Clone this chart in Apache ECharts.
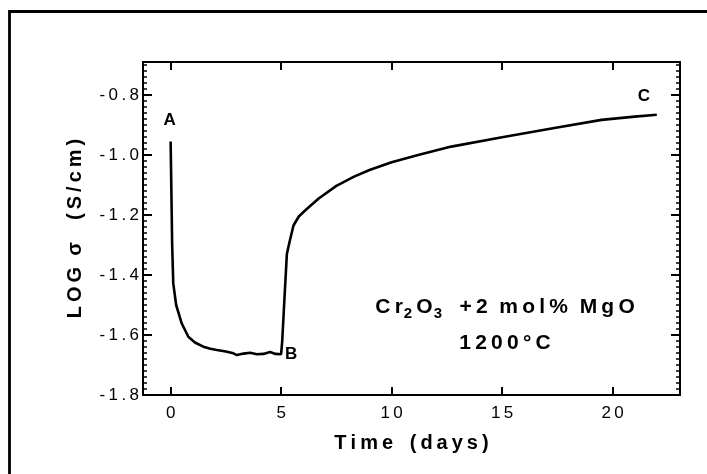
<!DOCTYPE html>
<html>
<head>
<meta charset="utf-8">
<script src="https://cdn.jsdelivr.net/npm/echarts@6/dist/echarts.min.js"></script>
<style>
html,body{margin:0;padding:0;background:#fff;}
#chart{width:707px;height:474px;}
</style>
</head>
<body>
<div id="chart"></div>
<script>
// ---- data ----
const timeDays = [0, 0.03, 0.07, 0.12, 0.25, 0.5, 0.8, 1.1, 1.48, 1.8, 2.09, 2.5, 2.84, 3.0, 3.3, 3.6, 3.9, 4.2, 4.5, 4.75, 5.0,
  5.05, 5.15, 5.26, 5.38, 5.56, 5.8, 6.16, 6.7, 7.5, 8.3, 9.0, 10.0, 11.2, 12.7, 15.0, 17.3, 19.5, 21.0, 22.0];
const logSigma = [-0.955, -1.10, -1.30, -1.428, -1.50, -1.561, -1.606, -1.625, -1.639, -1.646, -1.650, -1.655, -1.661, -1.667, -1.662, -1.659, -1.664, -1.663, -1.657, -1.663, -1.664,
  -1.62, -1.48, -1.33, -1.29, -1.235, -1.205, -1.18, -1.145, -1.103, -1.072, -1.05, -1.024, -1.0, -0.972, -0.941, -0.911, -0.883, -0.872, -0.866];
const xTicks = [0, 5, 10, 15, 20];
const yTicks = [-1.8, -1.6, -1.4, -1.2, -1.0, -0.8];
const pointLabels = ['A', 'B', 'C'];
const pointLabelIdx = [0, 20, 39];

const yMinorTicks = [];
for (let k = 0; k <= 55; k++) yMinorTicks.push(+(-1.8 + k * 0.02).toFixed(2));

const TS = '\u2009';
const spaced = s => s.split('').join(TS);

const seriesData = timeDays.map((t, i) => [t, logSigma[i]]);

const chart = echarts.init(document.getElementById('chart'), null, {renderer: 'canvas'});
const font = '"Liberation Sans", Arial, Helvetica, sans-serif';
const X_MIN = -1.25, X_MAX = 23.05, Y_MIN = -1.8, Y_MAX = -0.69;

function xAxis(pos, showLabels) {
  return {
    type: 'value', position: pos, min: X_MIN, max: X_MAX,
    axisLine: {show: true, onZero: false, lineStyle: {color: '#000', width: 2}},
    axisTick: {show: true, inside: true, length: 8, customValues: xTicks, lineStyle: {color: '#000', width: 2}},
    axisLabel: {show: showLabels, customValues: xTicks, margin: 10, color: '#000', fontSize: 17, fontFamily: font,
      formatter: v => spaced(String(Math.round(v)))},
    splitLine: {show: false},
    name: showLabels ? spaced('Time') + '   ' + spaced('(days)') : '',
    nameLocation: 'middle', nameGap: 38,
    nameTextStyle: {color: '#000', fontSize: 20, fontWeight: 'bold', fontFamily: font}
  };
}
function yAxis(pos, ticks, len, showLabels, showName) {
  return {
    type: 'value', position: pos, min: Y_MIN, max: Y_MAX,
    axisLine: {show: true, onZero: false, lineStyle: {color: '#000', width: 2}},
    axisTick: {show: true, inside: true, length: len, customValues: ticks, lineStyle: {color: '#000', width: len > 5 ? 2 : 1.5}},
    axisLabel: {show: showLabels, customValues: yTicks, margin: 4, color: '#000', fontSize: 17, fontFamily: font,
      formatter: v => spaced(v.toFixed(1))},
    splitLine: {show: false},
    name: showName ? spaced('LOG') + '  σ    ' + spaced('(S/cm)') : '',
    nameLocation: 'middle', nameGap: 58,
    nameTextStyle: {color: '#000', fontSize: 20, fontWeight: 'bold', fontFamily: font}
  };
}

chart.setOption({
  animation: false,
  backgroundColor: '#fff',
  grid: {left: 143, right: 27, top: 62, bottom: 79, containLabel: false},
  xAxis: [xAxis('bottom', true), xAxis('top', false)],
  yAxis: [
    yAxis('left', yTicks, 9, true, true),
    yAxis('left', yMinorTicks, 4, false, false),
    yAxis('right', yTicks, 9, false, false),
    yAxis('right', yMinorTicks, 4, false, false)
  ],
  series: [{
    type: 'line', xAxisIndex: 0, yAxisIndex: 0,
    data: seriesData, showSymbol: false, smooth: false,
    lineStyle: {color: '#000', width: 2.6},
    markPoint: {
      symbol: 'circle', symbolSize: 1, itemStyle: {color: 'rgba(0,0,0,0)'},
      label: {show: true, color: '#000', fontSize: 17, fontWeight: 'bold', fontFamily: font, formatter: '{b}'},
      data: [
        {name: pointLabels[0], coord: seriesData[pointLabelIdx[0]], label: {offset: [-1, -21]}},
        {name: pointLabels[1], coord: seriesData[pointLabelIdx[1]], label: {offset: [10, 0]}},
        {name: pointLabels[2], coord: seriesData[pointLabelIdx[2]], label: {offset: [-13, -18]}}
      ]
    }
  }],
  graphic: [
    {type: 'polyline', silent: true, shape: {points: [[9.5, 474], [9.5, 11.5], [707, 11.5]]},
     style: {stroke: '#000', lineWidth: 2.8, fill: null}},
    {type: 'text', silent: true, x: 505, y: 307,
     style: {
       text: '{m|C' + TS + 'r}{s|2}{m|' + TS + 'O}{s|3}{m|   +' + TS + '2  ' + spaced('mol%') + '  ' + spaced('MgO') + '}',
       rich: {
         m: {fontSize: 21, fontWeight: 'bold', fontFamily: font, fill: '#000', verticalAlign: 'middle'},
         s: {fontSize: 15, fontWeight: 'bold', fontFamily: font, fill: '#000', padding: [14, 0, 0, 1]}
       },
       align: 'center', verticalAlign: 'middle'
     }},
    {type: 'text', silent: true, x: 505, y: 343,
     style: {text: spaced('1200°C'), fontSize: 21, fontWeight: 'bold', fontFamily: font, fill: '#000',
       align: 'center', verticalAlign: 'middle'}}
  ]
});
</script>
</body>
</html>
